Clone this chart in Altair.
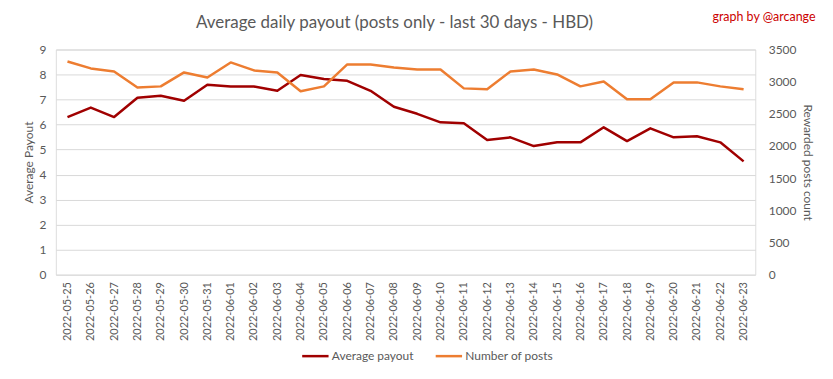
import altair as alt
import pandas as pd

dates = [
    "2022-05-25", "2022-05-26", "2022-05-27", "2022-05-28", "2022-05-29", "2022-05-30",
    "2022-05-31", "2022-06-01", "2022-06-02", "2022-06-03", "2022-06-04", "2022-06-05",
    "2022-06-06", "2022-06-07", "2022-06-08", "2022-06-09", "2022-06-10", "2022-06-11",
    "2022-06-12", "2022-06-13", "2022-06-14", "2022-06-15", "2022-06-16", "2022-06-17",
    "2022-06-18", "2022-06-19", "2022-06-20", "2022-06-21", "2022-06-22", "2022-06-23",
]
avg_payout = [
    6.30, 6.68, 6.30, 7.07, 7.15, 6.95, 7.59, 7.52, 7.52, 7.35, 7.98, 7.82,
    7.75, 7.35, 6.71, 6.43, 6.09, 6.05, 5.38, 5.49, 5.14, 5.29, 5.29, 5.89,
    5.34, 5.85, 5.49, 5.53, 5.29, 4.53,
]
num_posts = [
    3314, 3206, 3159, 2911, 2927, 3144, 3066, 3299, 3175, 3144, 2850, 2927,
    3268, 3268, 3221, 3190, 3190, 2896, 2881, 3159, 3190, 3113, 2927, 3004,
    2726, 2726, 2989, 2989, 2927, 2881,
]
series_names = ["Average payout", "Number of posts"]
series_colors = ["#A00000", "#ED7D31"]
left_ticks = list(range(0, 10))
right_ticks = list(range(0, 3501, 500))
title_text = "Average daily payout (posts only - last 30 days - HBD)"
credit_text = "graph by @arcange"

df_pay = pd.DataFrame({"date": dates, "value": avg_payout, "series": series_names[0]})
df_posts = pd.DataFrame({"date": dates, "value": num_posts, "series": series_names[1]})

FONT = "Lato"
GRAY = "#595959"

color = alt.Color(
    "series:N",
    scale=alt.Scale(domain=series_names, range=series_colors),
    legend=alt.Legend(
        title=None,
        orient="none",
        direction="horizontal",
        legendX=246,
        legendY=293,
        symbolType="stroke",
        symbolSize=700,
        symbolStrokeWidth=2.5,
        labelFont=FONT,
        labelFontSize=12,
        labelColor=GRAY,
        columnPadding=16,
        labelOffset=2,
    ),
)

x = alt.X(
    "date:O",
    sort=dates,
    title=None,
    axis=alt.Axis(
        labelAngle=270,
        labelFont=FONT,
        labelFontSize=11,
        labelColor=GRAY,
        ticks=False,
        domain=False,
        labelPadding=7,
    ),
)

pay = alt.Chart(df_pay).mark_line(strokeWidth=2.5, strokeJoin="round").encode(
    x=x,
    y=alt.Y(
        "value:Q",
        scale=alt.Scale(domain=[0, 9], nice=False),
        axis=alt.Axis(
            title="Average Payout",
            values=left_ticks,
            grid=True,
            gridColor="#D9D9D9",
            domain=False,
            ticks=False,
            labelFont=FONT,
            labelFontSize=12,
            labelColor=GRAY,
            labelPadding=10,
            titleFont=FONT,
            titleFontSize=12,
            titleFontWeight="normal",
            titleColor=GRAY,
            titlePadding=3,
        ),
    ),
    color=color,
)

posts = alt.Chart(df_posts).mark_line(strokeWidth=2.5, strokeJoin="round").encode(
    x=x,
    y=alt.Y(
        "value:Q",
        scale=alt.Scale(domain=[0, 3500], nice=False),
        axis=alt.Axis(
            title="Rewarded posts count",
            orient="right",
            values=right_ticks,
            format="d",
            grid=False,
            domain=False,
            ticks=False,
            labelFont=FONT,
            labelFontSize=12,
            labelColor=GRAY,
            labelPadding=13,
            titleFont=FONT,
            titleFontSize=12,
            titleFontWeight="normal",
            titleColor=GRAY,
            titlePadding=5,
        ),
    ),
    color=color,
)

title_mark = alt.Chart(pd.DataFrame({"t": [title_text]})).mark_text(
    font=FONT, fontSize=17, color=GRAY, align="center", baseline="middle"
).encode(text="t:N", x=alt.value(340), y=alt.value(-27))

credit = alt.Chart(pd.DataFrame({"t": [credit_text]})).mark_text(
    font=FONT, fontSize=12.5, color="#CC0000", align="left", baseline="middle"
).encode(text="t:N", x=alt.value(659), y=alt.value(-33))

chart = (
    alt.layer(pay, posts, title_mark, credit)
    .resolve_scale(y="independent")
    .properties(
        width=702,
        height=226,
        autosize=alt.AutoSizeParams(type="none"),
        padding={"left": 48, "top": 41, "right": 70, "bottom": 95},
    )
    .configure_view(stroke=None)
    .configure(background="white")
)

chart.save("out.html", embed_options={"renderer": "svg", "actions": False})
